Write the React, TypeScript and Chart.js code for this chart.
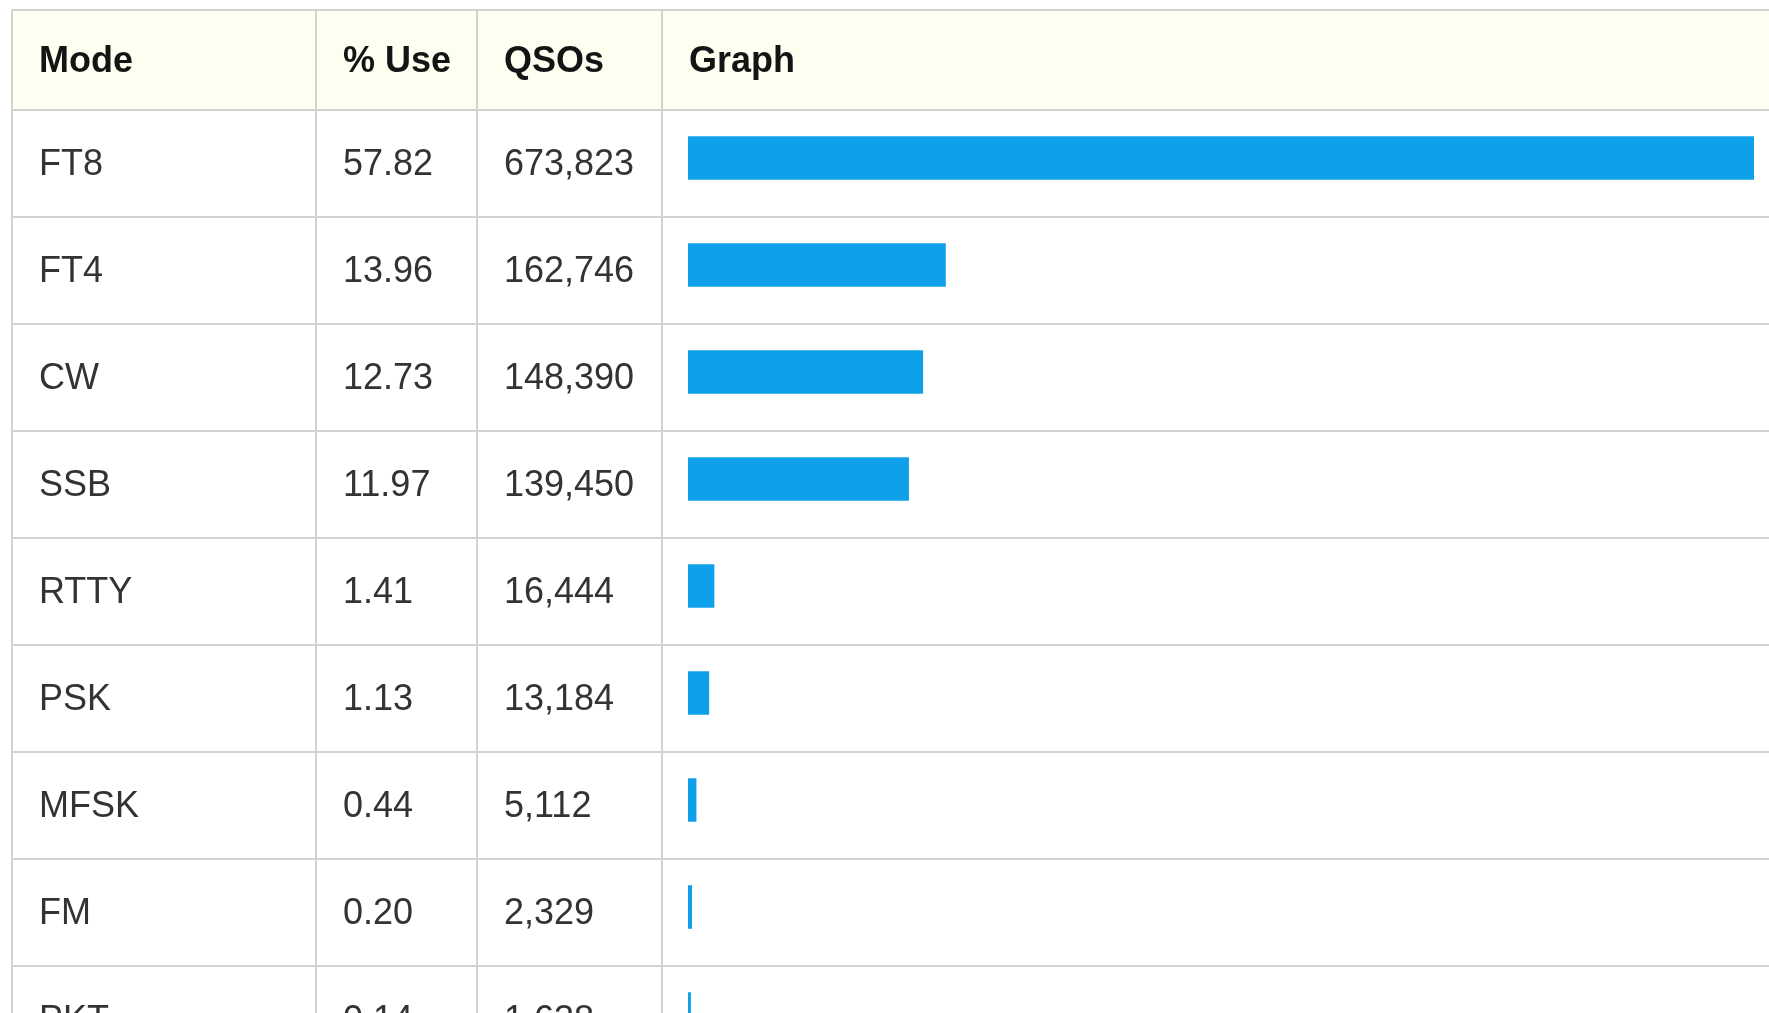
import React, { useEffect, useRef } from "react";
import { Chart, registerables } from "chart.js";

Chart.register(...registerables);

// ---- data ----
const modes: string[] = ["FT8", "FT4", "CW", "SSB", "RTTY", "PSK", "MFSK", "FM", "PKT"];
const pctUse: number[] = [57.82, 13.96, 12.73, 11.97, 1.41, 1.13, 0.44, 0.2, 0.14];
const qsos: number[] = [673823, 162746, 148390, 139450, 16444, 13184, 5112, 2329, 1638];
const headers: string[] = ["Mode", "% Use", "QSOs", "Graph"];

// ---- layout / style ----
const W = 1769;
const VIEW_H = 1013;
const CANVAS_H = 1090;
const TABLE_LEFT = 12;
const TABLE_TOP = 10;
const HEADER_BOTTOM = 110;
const ROW_H = 107;
const ROW_SHIFT = 5.5; // bars sit slightly above the row centre
const COL_LEFTS = [TABLE_LEFT, 316, 477, 662];
const CELL_PAD = 27;
const BAR_LEFT = 688;
const BAR_RIGHT = 1754;
const HEADER_BG = "#fffff1";
const BORDER = "#d2d2d2";
const BAR_COLOR = "#0fa0ea";
const FONT_FAMILY = '"Liberation Sans", Arial, sans-serif';

const tablePlugin = {
  id: "tableGrid",
  beforeDatasetsDraw(chart: any) {
    const { ctx } = chart;
    const y = chart.scales.y;
    const n = modes.length;
    const step = y.getPixelForValue(1) - y.getPixelForValue(0);
    const rowTop = (i: number) => y.getPixelForValue(i) - step / 2 + ROW_SHIFT;
    const bottom = rowTop(n);
    const width = chart.width;

    ctx.save();
    ctx.fillStyle = "#ffffff";
    ctx.fillRect(0, 0, width, chart.height);
    ctx.fillStyle = HEADER_BG;
    ctx.fillRect(TABLE_LEFT, TABLE_TOP, width - TABLE_LEFT, rowTop(0) - TABLE_TOP);

    ctx.strokeStyle = BORDER;
    ctx.lineWidth = 2;
    ctx.beginPath();
    ctx.moveTo(TABLE_LEFT, TABLE_TOP);
    ctx.lineTo(width, TABLE_TOP);
    for (let i = 0; i <= n; i++) {
      const yy = rowTop(i);
      ctx.moveTo(TABLE_LEFT, yy);
      ctx.lineTo(width, yy);
    }
    for (const x of COL_LEFTS) {
      ctx.moveTo(x, TABLE_TOP);
      ctx.lineTo(x, bottom);
    }
    ctx.stroke();

    // header text
    ctx.textBaseline = "alphabetic";
    ctx.textAlign = "left";
    ctx.fillStyle = "#141414";
    ctx.font = `bold 36px ${FONT_FAMILY}`;
    headers.forEach((h, c) => {
      ctx.fillText(h, COL_LEFTS[c] + CELL_PAD, TABLE_TOP + 62);
    });

    // body text
    ctx.fillStyle = "#333333";
    ctx.font = `36px ${FONT_FAMILY}`;
    for (let i = 0; i < n; i++) {
      const base = rowTop(i) + 65;
      ctx.fillText(modes[i], COL_LEFTS[0] + CELL_PAD, base);
      ctx.fillText(pctUse[i].toFixed(2), COL_LEFTS[1] + CELL_PAD, base);
      ctx.fillText(qsos[i].toLocaleString("en-US"), COL_LEFTS[2] + CELL_PAD, base);
    }
    ctx.restore();
  },
};

export default function App() {
  const ref = useRef<HTMLCanvasElement | null>(null);

  useEffect(() => {
    document.body.style.margin = "0";
    document.body.style.overflow = "hidden";
    if (!ref.current) return;
    const top = HEADER_BOTTOM - ROW_SHIFT;
    const chart = new Chart(ref.current, {
      type: "bar",
      data: {
        labels: modes,
        datasets: [
          {
            label: "QSOs",
            data: qsos,
            backgroundColor: BAR_COLOR,
            borderWidth: 0,
            barThickness: 43,
          },
        ],
      },
      options: {
        indexAxis: "y",
        responsive: false,
        animation: false,
        devicePixelRatio: 1,
        layout: {
          padding: {
            left: BAR_LEFT,
            right: W - BAR_RIGHT,
            top: top,
            bottom: CANVAS_H - (top + modes.length * ROW_H),
          },
        },
        scales: {
          x: { display: false, min: 0, max: Math.max(...qsos) },
          y: { display: false, offset: true },
        },
        plugins: {
          legend: { display: false },
          tooltip: { enabled: false },
        },
      },
      plugins: [tablePlugin],
    });
    return () => chart.destroy();
  }, []);

  return (
    <div style={{ width: W, height: VIEW_H, overflow: "hidden", background: "#fff" }}>
      <canvas ref={ref} width={W} height={CANVAS_H} style={{ display: "block" }} />
    </div>
  );
}
